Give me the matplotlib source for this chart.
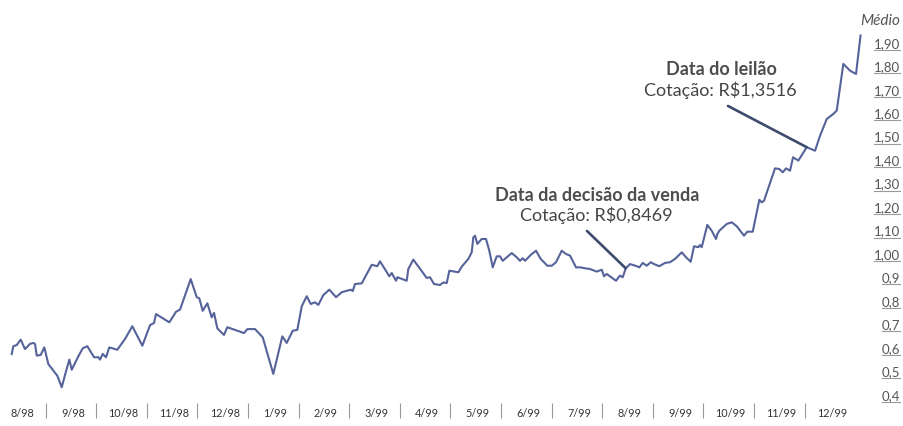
"""
Cotacao media diaria (ago/98 a dez/99), com as datas da decisao de venda
e do leilao marcadas por linhas de chamada.
"""

import numpy as np
import matplotlib.pyplot as plt
from matplotlib.lines import Line2D
from matplotlib.transforms import blended_transform_factory, IdentityTransform

# --- Dados ---------------------------------------------------------------
# t: posicao em meses a partir do inicio de ago/98 (0 = inicio de 8/98).
meses = ["8/98", "9/98", "10/98", "11/98", "12/98", "1/99", "2/99", "3/99",
         "4/99", "5/99", "6/99", "7/99", "8/99", "9/99", "10/99", "11/99",
         "12/99"]

t = np.array([
    0.291, 0.322, 0.389, 0.468, 0.553, 0.652, 0.717, 0.751, 0.785, 0.864,
    0.935, 1.014, 1.113, 1.192, 1.279, 1.358, 1.429, 1.476, 1.607, 1.694,
    1.785, 1.917, 2.002, 2.036, 2.089, 2.154, 2.219, 2.377, 2.530, 2.674,
    2.872, 3.024, 3.103, 3.142, 3.405, 3.538, 3.617, 3.828, 3.947, 3.998,
    4.065, 4.156, 4.243, 4.289, 4.354, 4.486, 4.552, 4.881, 4.947, 5.099,
    5.251, 5.460, 5.638, 5.725, 5.844, 5.935, 6.022, 6.121, 6.200, 6.285,
    6.350, 6.449, 6.567, 6.700, 6.812, 6.923, 6.990, 7.030, 7.075, 7.208,
    7.405, 7.516, 7.569, 7.753, 7.800, 7.885, 7.911, 8.097, 8.128, 8.227,
    8.492, 8.557, 8.636, 8.755, 8.820, 8.887, 8.939, 9.117, 9.184, 9.314,
    9.381, 9.413, 9.447, 9.492, 9.579, 9.664, 9.729, 9.796, 9.875, 9.941,
    9.994, 10.172, 10.271, 10.336, 10.389, 10.435, 10.547, 10.652, 10.745,
    10.875, 10.962, 11.047, 11.160, 11.245, 11.324, 11.443, 11.536, 11.621,
    11.719, 11.852, 11.951, 11.996, 12.049, 12.233, 12.312, 12.366, 12.425,
    12.510, 12.628, 12.694, 12.761, 12.840, 12.919, 12.984, 13.089, 13.202,
    13.300, 13.399, 13.532, 13.617, 13.709, 13.775, 13.860, 13.893, 13.927,
    14.037, 14.124, 14.209, 14.235, 14.275, 14.421, 14.520, 14.619, 14.763,
    14.828, 14.935, 15.065, 15.113, 15.158, 15.263, 15.375, 15.460, 15.527,
    15.593, 15.672, 15.731, 15.836, 16.002, 16.166, 16.265, 16.397, 16.528,
    16.595, 16.725, 16.858, 16.976, 17.065,
])

cotacao = np.array([
    0.574, 0.607, 0.612, 0.635, 0.595, 0.617, 0.621, 0.617, 0.567, 0.570,
    0.602, 0.531, 0.503, 0.481, 0.432, 0.496, 0.550, 0.507, 0.564, 0.598,
    0.607, 0.560, 0.560, 0.550, 0.574, 0.560, 0.602, 0.592, 0.638, 0.692,
    0.609, 0.697, 0.706, 0.744, 0.709, 0.754, 0.763, 0.893, 0.816, 0.811,
    0.758, 0.790, 0.730, 0.749, 0.683, 0.655, 0.688, 0.663, 0.680, 0.680,
    0.645, 0.489, 0.649, 0.621, 0.673, 0.677, 0.777, 0.820, 0.787, 0.794,
    0.783, 0.825, 0.848, 0.816, 0.837, 0.844, 0.848, 0.842, 0.872, 0.875,
    0.954, 0.948, 0.969, 0.905, 0.919, 0.886, 0.901, 0.886, 0.936, 0.976,
    0.898, 0.901, 0.872, 0.868, 0.879, 0.876, 0.929, 0.922, 0.946, 0.979,
    1.007, 1.071, 1.078, 1.043, 1.064, 1.064, 1.014, 0.943, 0.990, 0.990,
    0.971, 1.004, 0.986, 0.971, 0.982, 0.971, 0.996, 1.014, 0.979,
    0.950, 0.950, 0.965, 1.014, 1.000, 0.993, 0.943, 0.943, 0.939,
    0.936, 0.925, 0.933, 0.905, 0.915, 0.886, 0.908, 0.901, 0.939,
    0.957, 0.949, 0.943, 0.962, 0.950, 0.965, 0.957, 0.948, 0.962,
    0.965, 0.979, 1.007, 0.986, 0.967, 1.033, 1.029, 1.038, 1.029,
    1.124, 1.099, 1.064, 1.085, 1.099, 1.128, 1.135, 1.118, 1.078,
    1.095, 1.095, 1.231, 1.220, 1.227, 1.294, 1.365, 1.362, 1.348,
    1.365, 1.355, 1.412, 1.398, 1.455, 1.440, 1.504, 1.575, 1.597,
    1.611, 1.810, 1.781, 1.767, 1.931,
])

valores_eixo = [0.4, 0.5, 0.6, 0.7, 0.8, 0.9, 1.0, 1.1, 1.2, 1.3, 1.4, 1.5,
                1.6, 1.7, 1.8, 1.9]
rotulos_eixo = ["0,4", "0,5", "0,6", "0,7", "0,8", "0,9", "1,00", "1,10",
                "1,20", "1,30", "1,40", "1,50", "1,60", "1,70", "1,80", "1,90"]

# Datas marcadas (em meses) e os textos das chamadas
T_DECISAO, T_LEILAO = 12.425, 16.002
titulo_decisao, texto_decisao = "Data da decisão da venda", "Cotação: R$0,8469"
titulo_leilao, texto_leilao = "Data do leilão", "Cotação: R$1,3516"

COR_LINHA = "#56639a"
COR_CHAMADA = "#3e4b6e"
COR_TEXTO = "#444444"
FONTE = ["Lato", "DejaVu Sans"]

plt.rcParams["font.family"] = FONTE

fig = plt.figure(figsize=(9.04, 4.27), dpi=100)
ax = fig.add_axes([0, 23 / 427, 862.3 / 904, 404 / 427])
ax.plot(t, cotacao, color=COR_LINHA, linewidth=1.5)

ax.set_xlim(0.059, 17.1)
ax.set_ylim(0.3651, 2.0865)
for lado in ax.spines.values():
    lado.set_visible(False)
ax.set_yticks([])

# Meses no centro de cada intervalo, separadores "|" nos limites
ax.set_xticks(np.arange(len(meses)) + 0.5)
ax.set_xticklabels(meses, fontsize=7.8, color="#333333")
ax.set_xticks(np.arange(1, len(meses)) - 0.04, minor=True)
ax.tick_params(axis="x", which="major", length=0, pad=3)
ax.tick_params(axis="x", which="minor", length=11, width=0.8, color="#999999")

# Escala a direita, sublinhada, e o titulo "Medio"
trans = blended_transform_factory(fig.transFigure, ax.transData)
textos = []
for v, rot in zip(valores_eixo, rotulos_eixo):
    textos.append(ax.text(0.9956, v, rot, transform=trans, ha="right",
                          va="center", fontsize=9.5, color="#555555"))
fig.text(0.9956, 1 - 21 / 427, "Médio", ha="right", va="center",
         fontsize=11, style="italic", color="#555555")

# Chamadas
i_dec = np.argmin(np.abs(t - T_DECISAO))
i_lei = np.argmin(np.abs(t - T_LEILAO))
seta = dict(arrowstyle="-", color=COR_CHAMADA, lw=1.9, shrinkA=0, shrinkB=0)

ax.annotate("", xy=(t[i_dec], cotacao[i_dec]), xytext=(-27.9, 26.9),
            textcoords="offset points", arrowprops=seta)
ax.annotate(titulo_decisao, xy=(t[i_dec], cotacao[i_dec]), xytext=(-20.7, 53.5),
            textcoords="offset points", ha="center", va="center",
            fontsize=13, fontweight="bold", color="#4d4d4d")
ax.annotate(texto_decisao, xy=(t[i_dec], cotacao[i_dec]), xytext=(-21.4, 39.1),
            textcoords="offset points", ha="center", va="center",
            fontsize=13, color=COR_TEXTO)

ax.annotate("", xy=(t[i_lei], cotacao[i_lei]), xytext=(-56.7, 29.7),
            textcoords="offset points", arrowprops=seta)
ax.annotate(titulo_leilao, xy=(t[i_lei], cotacao[i_lei]), xytext=(-61.7, 56.4),
            textcoords="offset points", ha="center", va="center",
            fontsize=13, fontweight="bold", color="#4d4d4d")
ax.annotate(texto_leilao, xy=(t[i_lei], cotacao[i_lei]), xytext=(-62.4, 42.0),
            textcoords="offset points", ha="center", va="center",
            fontsize=13, color=COR_TEXTO)

# Sublinhado de cada rotulo da escala (medido depois de desenhar)
fig.canvas.draw()
renderer = fig.canvas.get_renderer()
for txt in textos:
    bb = txt.get_window_extent(renderer)
    y = bb.y0 - 1
    fig.add_artist(Line2D([bb.x0, bb.x1], [y, y], transform=IdentityTransform(),
                          color="#999999", linewidth=0.8))

fig.savefig("out.png", dpi=100)
